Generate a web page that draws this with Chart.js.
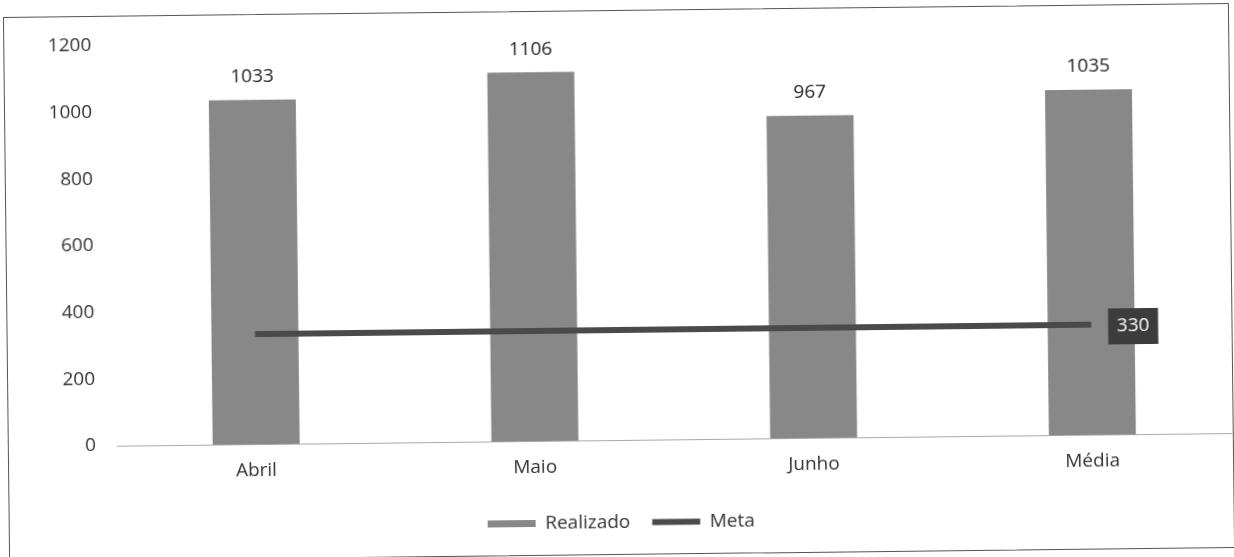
<!DOCTYPE html>
<html>
<head>
<meta charset="utf-8">
<script src="https://cdn.jsdelivr.net/npm/chart.js@4.4.1/dist/chart.umd.min.js"></script>
<style>
    html, body { margin: 0; padding: 0; background: #fff; }
    body { width: 1234px; height: 557px; overflow: hidden; position: relative; }
    #frame {
        position: absolute;
        left: 6px; top: 10px;
        width: 1226px; height: 545px;
        box-sizing: border-box;
        border: 1px solid #555;
        transform: rotate(-0.65deg);
        transform-origin: 50% 50%;
    }
    #frame canvas { display: block; }
</style>
</head>
<body>
<div id="frame"><canvas id="meta-chart" width="1224" height="543"></canvas></div>
<script>
// months + average
const meses = ['Abril', 'Maio', 'Junho', 'Média'];
const realizado = [1033, 1106, 967, 1035];
const meta = [330, 330, 330, 330];
const yTicks = [0, 200, 400, 600, 800, 1000, 1200];

const corBarra = '#888888';
const corMeta = '#4a4a4a';

Chart.defaults.font.family = "'Open Sans', sans-serif";
Chart.defaults.font.size = 19;
Chart.defaults.color = '#333';

// value labels over bars and the box at the end of the Meta line
const rotulos = {
    id: 'rotulos',
    afterDatasetsDraw(chart) {
        const ctx = chart.ctx;
        ctx.save();
        ctx.font = "19px 'Open Sans', sans-serif";
        ctx.textAlign = 'center';
        ctx.textBaseline = 'middle';

        const barMeta = chart.getDatasetMeta(0);
        barMeta.data.forEach((bar, i) => {
            ctx.fillStyle = '#222';
            ctx.fillText(String(realizado[i]), bar.x, bar.y - 23);
        });

        const lineMeta = chart.getDatasetMeta(1);
        const last = lineMeta.data[lineMeta.data.length - 1];
        const bx = last.x + 17, bw = 50, bh = 36;
        ctx.fillStyle = '#3c3c3c';
        ctx.fillRect(bx, last.y - bh / 2 + 2, bw, bh);
        ctx.fillStyle = '#fff';
        ctx.fillText(String(meta[meta.length - 1]), bx + bw / 2, last.y + 2);
        ctx.restore();
    }
};

var ctx = document.getElementById('meta-chart').getContext('2d');
window.metaChart = new Chart(ctx, {
    type: 'bar',
    data: {
        labels: meses,
        datasets: [{
            label: 'Realizado',
            data: realizado,
            backgroundColor: corBarra,
            borderWidth: 0,
            categoryPercentage: 1.0,
            barPercentage: 0.312,
            pointStyle: 'rect',
            order: 1
        }, {
            type: 'line',
            label: 'Meta',
            data: meta,
            borderColor: corMeta,
            backgroundColor: corMeta,
            borderWidth: 6,
            pointRadius: 0,
            pointStyle: 'line',
            tension: 0,
            order: 0
        }]
    },
    options: {
        responsive: false,
        animation: false,
        layout: {
            padding: { top: 29, right: 1, bottom: 12, left: 0 }
        },
        scales: {
            x: {
                grid: { display: false },
                border: { display: true, color: '#aaa', width: 1 },
                ticks: { padding: 7, color: '#333' },
                afterFit(scale) { scale.height = 51; }
            },
            y: {
                min: 0,
                max: 1200,
                afterBuildTicks(scale) {
                    scale.ticks = yTicks.map(v => ({ value: v }));
                },
                grid: { display: false },
                border: { display: false },
                ticks: {
                    padding: 13,
                    color: '#333',
                    callback: (v) => String(v)
                },
                afterFit(scale) { scale.width = 108; }
            }
        },
        plugins: {
            legend: {
                position: 'bottom',
                labels: {
                    usePointStyle: true,
                    pointStyleWidth: 48,
                    boxHeight: 7,
                    padding: 22,
                    color: '#333',
                    sort: (a, b) => a.datasetIndex - b.datasetIndex
                }
            },
            tooltip: { enabled: false }
        }
    },
    plugins: [rotulos]
});
</script>
</body>
</html>
